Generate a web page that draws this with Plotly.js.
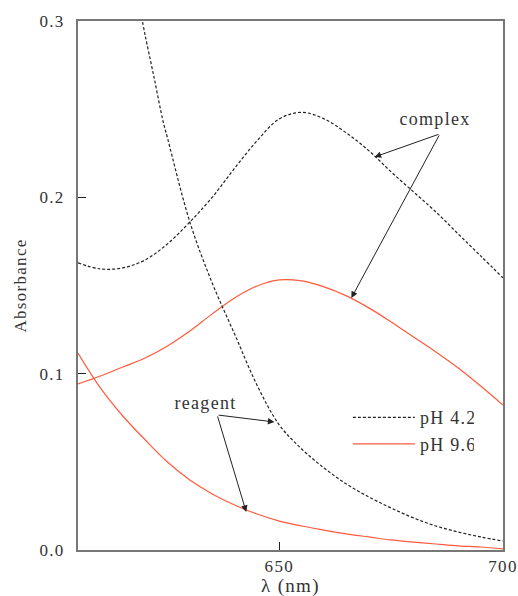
<!DOCTYPE html>
<html>
<head>
<meta charset="utf-8">
<script src="https://cdn.plot.ly/plotly-3.0.1.min.js"></script>
<style>
body{margin:0;padding:0;background:#fff;}
#chart{width:518px;height:596px;}
.main-svg text{letter-spacing:1.3px;}
</style>
</head>
<body>
<div id="chart"></div>
<script>
// wavelengths (nm)
var wavelength = [605,610,615,620,625,630,635,640,645,650,655,660,665,670,675,680,685,690,695,700];
// pH 4.2 complex (dashed)
var complexPH42 = [0.1628,0.1594,0.1600,0.1645,0.1736,0.1860,0.2000,0.2165,0.2320,0.2445,0.2482,0.2445,0.2365,0.2265,0.2144,0.2031,0.1917,0.1792,0.1668,0.1543];
// pH 9.6 complex (red)
var complexPH96 = [0.0942,0.0987,0.1038,0.1089,0.1157,0.1242,0.1339,0.1429,0.1497,0.1532,0.1526,0.1492,0.1441,0.1373,0.1293,0.1208,0.1123,0.1032,0.0930,0.0822];
// pH 9.6 reagent (red)
var reagentPH96 = [0.1117,0.0919,0.0760,0.0625,0.0499,0.0397,0.0318,0.0255,0.0204,0.0164,0.0136,0.0113,0.0091,0.0074,0.0057,0.0045,0.0034,0.0023,0.0017,0.0006];
// pH 4.2 reagent (dashed), starts off the top of the plot
var reagentWl42 = [619,620,622,624,625,630,635,640,645,650,655,660,665,670,675,680,685,690,695,700];
var reagentPH42 = [0.305,0.292,0.268,0.2433,0.2337,0.1860,0.1514,0.1225,0.0936,0.0709,0.0573,0.0465,0.0374,0.0301,0.0238,0.0182,0.0136,0.0102,0.0074,0.0051];

var xTicks = [650,700];
var yTicks = [0.0,0.1,0.2,0.3];
var labelComplex = "complex";
var labelReagent = "reagent";
var xTitle = "λ (nm)";
var seriesNames = ["pH 4.2","pH 9.6"];

var FONT = "Liberation Serif";
var RED = "#ff5a3c";
var BLK = "#222";

var traces = [
  {x: wavelength, y: complexPH42, mode:"lines", name: seriesNames[0],
   line:{color:BLK, width:1.2, dash:"3px,2px", shape:"spline", smoothing:1}},
  {x: wavelength, y: complexPH96, mode:"lines", name: seriesNames[1],
   line:{color:RED, width:1.2, shape:"spline", smoothing:1}},
  {x: reagentWl42, y: reagentPH42, mode:"lines", showlegend:false,
   line:{color:BLK, width:1.2, dash:"3px,2px", shape:"spline", smoothing:1}},
  {x: wavelength, y: reagentPH96, mode:"lines", showlegend:false,
   line:{color:RED, width:1.2, shape:"spline", smoothing:1}}
];

function arrow(x, y, ax, ay){
  return {x:x, y:y, ax:ax, ay:ay, xref:"x", yref:"y", axref:"x", ayref:"y",
    text:"", showarrow:true, arrowhead:2, arrowsize:1.3, arrowwidth:1, arrowcolor:"#222", standoff:0, startstandoff:0};
}

var layout = {
  width:518, height:596,
  margin:{l:78, r:15, t:21, b:46},
  paper_bgcolor:"#fff", plot_bgcolor:"#fff",
  font:{family:FONT, size:16, color:"#333"},
  showlegend:true,
  legend:{x:0.635, y:0.285, xanchor:"left", yanchor:"top", bgcolor:"rgba(0,0,0,0)",
    font:{family:FONT, size:18, color:"#333"}, itemwidth:62, tracegroupgap:0},
  xaxis:{range:[605,700], tickvals:xTicks, ticktext:xTicks.map(String),
    ticks:"inside", ticklen:8, tickwidth:1.5, tickcolor:"#222",
    showline:true, linecolor:"#777", linewidth:2, mirror:true,
    showgrid:false, zeroline:false,
    tickfont:{family:FONT, size:17, color:"#333"}},
  yaxis:{range:[0,0.3], tickvals:yTicks, ticktext:yTicks.map(function(v){return v.toFixed(1);}),
    ticks:"inside", ticklen:8, tickwidth:1.5, tickcolor:"#222",
    showline:true, linecolor:"#777", linewidth:2, mirror:true,
    showgrid:false, zeroline:false, ticklabelstandoff:8,
    tickfont:{family:FONT, size:17, color:"#333"},
    title:{text:"Absorbance", font:{family:FONT, size:17, color:"#333"}, standoff:12}},
  annotations:[
    {x:0.5, y:0, xref:"paper", yref:"paper", yanchor:"bottom", yshift:-48, text:xTitle,
     showarrow:false, borderpad:0, font:{family:FONT, size:19, color:"#333"}},
    {x:684.9, y:0.2445, xref:"x", yref:"y", text:labelComplex, showarrow:false,
     font:{family:FONT, size:18, color:"#333"}},
    {x:633.4, y:0.0834, xref:"x", yref:"y", text:labelReagent, showarrow:false,
     font:{family:FONT, size:18, color:"#333"}},
    arrow(671.3, 0.2229, 685.9, 0.236),
    arrow(666.1, 0.1429, 685.9, 0.236),
    arrow(648.9, 0.0726, 636.1, 0.0766),
    arrow(642.6, 0.0216, 636.1, 0.0766)
  ]
};

Plotly.newPlot("chart", traces, layout, {displayModeBar:false, staticPlot:true});
</script>
</body>
</html>
